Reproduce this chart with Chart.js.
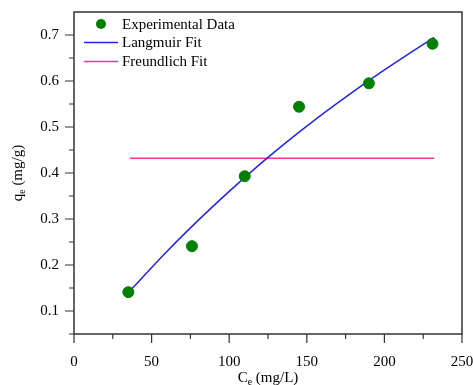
<!DOCTYPE html>
<html>
<head>
<meta charset="utf-8">
<script src="https://cdn.jsdelivr.net/npm/chart.js@4"></script>
<style>
  html, body { margin: 0; padding: 0; background: #fff; }
  #wrap { width: 473px; height: 385px; }
</style>
</head>
<body>
<div id="wrap"><canvas id="isoChart" width="473" height="385"></canvas></div>
<script>
// experimental points
const ceData = [35, 76, 110, 145, 190, 231];
const qeData = [0.141, 0.241, 0.393, 0.544, 0.595, 0.681];

// Langmuir fit curve
const langC = [35, 60, 80, 100, 125, 150, 175, 200, 232];
const langQ = [0.140, 0.230, 0.297, 0.360, 0.434, 0.502, 0.565, 0.624, 0.695];

// Freundlich fit (flat)
const freuC = [36, 232];
const freuQ = [0.432, 0.432];

const xTicks = [0, 50, 100, 150, 200, 250];
const yTicks = [0.1, 0.2, 0.3, 0.4, 0.5, 0.6, 0.7];

const serif = '"Liberation Serif", "Times New Roman", serif';

const framePlugin = {
    id: 'frame',
    afterDraw(chart) {
        const ctx = chart.ctx;
        const a = chart.chartArea;
        const xs = chart.scales.x, ys = chart.scales.y;
        ctx.save();
        ctx.strokeStyle = '#333';
        ctx.lineWidth = 1.5;
        ctx.strokeRect(a.left, a.top, a.right - a.left, a.bottom - a.top);

        // tick marks, major and minor
        ctx.lineWidth = 1.2;
        ctx.beginPath();
        for (let v = 0; v <= 250; v += 25) {
            const px = xs.getPixelForValue(v);
            const len = (v % 50 === 0) ? 9 : 5;
            ctx.moveTo(px, a.bottom);
            ctx.lineTo(px, a.bottom + len);
        }
        for (let i = 1; i <= 14; i++) {
            const v = i * 0.05;
            const py = ys.getPixelForValue(v);
            const len = (i % 2 === 0) ? 9 : 5;
            ctx.moveTo(a.left, py);
            ctx.lineTo(a.left - len, py);
        }
        ctx.stroke();

        // axis titles with subscript e
        ctx.fillStyle = '#000';
        ctx.textBaseline = 'alphabetic';
        drawSub(ctx, 'C', 'e', ' (mg/L)', (a.left + a.right) / 2, 382, 15);
        ctx.translate(22, (a.top + a.bottom) / 2);
        ctx.rotate(-Math.PI / 2);
        drawSub(ctx, 'q', 'e', ' (mg/g)', 0, 0, 15);
        ctx.restore();

        // legend
        ctx.save();
        ctx.font = '15px ' + serif;
        ctx.fillStyle = '#000';
        ctx.textBaseline = 'middle';
        ctx.fillStyle = '#008000';
        ctx.beginPath();
        ctx.arc(101, 24, 5, 0, Math.PI * 2);
        ctx.fill();
        ctx.fillStyle = '#000';
        ctx.fillText('Experimental Data', 122, 25);
        ctx.lineWidth = 1.5;
        ctx.strokeStyle = '#2222ee';
        ctx.beginPath(); ctx.moveTo(84, 42.5); ctx.lineTo(118, 42.5); ctx.stroke();
        ctx.fillText('Langmuir Fit', 122, 43);
        ctx.strokeStyle = '#ff2e9a';
        ctx.beginPath(); ctx.moveTo(84, 61.5); ctx.lineTo(118, 61.5); ctx.stroke();
        ctx.fillText('Freundlich Fit', 122, 62);
        ctx.restore();
    }
};

function drawSub(ctx, base, sub, rest, cx, y, size) {
    ctx.font = size + 'px ' + serif;
    const w1 = ctx.measureText(base).width;
    const w3 = ctx.measureText(rest).width;
    ctx.font = (size * 0.65) + 'px ' + serif;
    const w2 = ctx.measureText(sub).width;
    let x = cx - (w1 + w2 + w3) / 2;
    ctx.textAlign = 'left';
    ctx.font = size + 'px ' + serif;
    ctx.fillText(base, x, y);
    x += w1;
    ctx.font = (size * 0.65) + 'px ' + serif;
    ctx.fillText(sub, x, y + 3);
    x += w2;
    ctx.font = size + 'px ' + serif;
    ctx.fillText(rest, x, y);
}

new Chart(document.getElementById('isoChart'), {
    type: 'scatter',
    data: {
        datasets: [{
            label: 'Experimental Data',
            data: ceData.map((c, i) => ({x: c, y: qeData[i]})),
            backgroundColor: '#008000',
            borderColor: '#008000',
            pointRadius: 5.5,
            order: 0
        }, {
            label: 'Langmuir Fit',
            data: langC.map((c, i) => ({x: c, y: langQ[i]})),
            showLine: true,
            cubicInterpolationMode: 'monotone',
            borderColor: '#2222ee',
            borderWidth: 1.5,
            pointRadius: 0,
            order: 1
        }, {
            label: 'Freundlich Fit',
            data: freuC.map((c, i) => ({x: c, y: freuQ[i]})),
            showLine: true,
            borderColor: '#ff2e9a',
            borderWidth: 1.5,
            pointRadius: 0,
            order: 2
        }]
    },
    options: {
        responsive: false,
        animation: false,
        layout: { padding: { top: 12, right: 11, left: 0, bottom: 0 } },
        plugins: {
            legend: { display: false },
            tooltip: { enabled: false }
        },
        scales: {
            x: {
                type: 'linear',
                min: 0, max: 250,
                afterFit: s => {
                    s.height = 51;
                    s.paddingLeft = 0; s.paddingRight = 0;
                },
                afterBuildTicks: s => { s.ticks = xTicks.map(v => ({value: v})); },
                grid: { display: false },
                border: { display: false },
                ticks: {
                    color: '#000',
                    font: { family: serif, size: 15 },
                    padding: 11,
                    maxRotation: 0
                }
            },
            y: {
                type: 'linear',
                min: 0.05, max: 0.75,
                afterFit: s => {
                    s.width = 74;
                    s.paddingTop = 0; s.paddingBottom = 0;
                },
                afterBuildTicks: s => { s.ticks = yTicks.map(v => ({value: v})); },
                grid: { display: false },
                border: { display: false },
                ticks: {
                    color: '#000',
                    font: { family: serif, size: 15 },
                    padding: 7,
                    callback: v => v.toFixed(1)
                }
            }
        }
    },
    plugins: [framePlugin]
});
</script>
</body>
</html>
